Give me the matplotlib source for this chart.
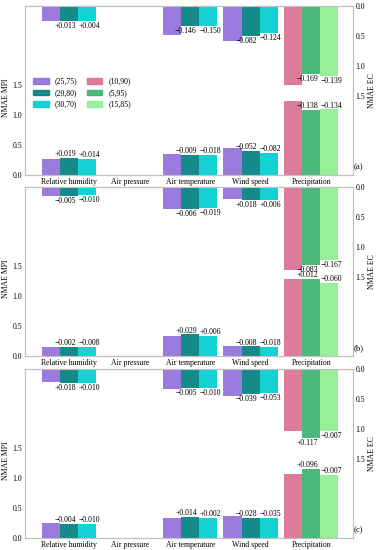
import matplotlib
matplotlib.use("Agg")
import matplotlib.pyplot as plt
from matplotlib.patches import Patch
import numpy as np

plt.rcParams['font.family'] = ['Liberation Serif', 'DejaVu Serif']

categories = ["Relative humidity", "Air pressure", "Air temperature", "Wind speed", "Precipitation"]
series_main = ["(25,75)", "(20,80)", "(30,70)"]
series_prec = ["(10,90)", "(5,95)", "(15,85)"]
panel_tags = ["(a)", "(b)", "(c)"]

# Bar heights per panel: rows = categories, cols = the three series
mpi_a = [[0.260, 0.279, 0.274], [0, 0, 0], [0.350, 0.341, 0.332], [0.455, 0.403, 0.373], [1.230, 1.092, 1.096]]
ec_a = [[0.245, 0.258, 0.249], [0, 0, 0], [0.480, 0.334, 0.330], [0.580, 0.498, 0.456], [1.310, 1.141, 1.171]]
mpi_b = [[0.157, 0.155, 0.149], [0, 0, 0], [0.333, 0.362, 0.339], [0.167, 0.159, 0.149], [1.278, 1.290, 1.218]]
ec_b = [[0.150, 0.145, 0.140], [0, 0, 0], [0.367, 0.361, 0.348], [0.205, 0.223, 0.211], [1.383, 1.300, 1.216]]
mpi_c = [[0.245, 0.241, 0.235], [0, 0, 0], [0.340, 0.354, 0.342], [0.370, 0.342, 0.335], [1.060, 1.156, 1.053]]
ec_c = [[0.223, 0.241, 0.233], [0, 0, 0], [0.330, 0.325, 0.320], [0.450, 0.411, 0.397], [1.040, 1.157, 1.033]]

# Difference labels (series 2 and 3 vs series 1); None = no label
mpi_lab_a = [[0.019, 0.014], None, [-0.009, -0.018], [-0.052, -0.082], [-0.138, -0.134]]
ec_lab_a = [[0.013, 0.004], None, [-0.146, -0.150], [-0.082, -0.124], [-0.169, -0.139]]
mpi_lab_b = [[-0.002, -0.008], None, [0.029, 0.006], [-0.008, -0.018], [0.012, -0.060]]
ec_lab_b = [[-0.005, -0.010], None, [-0.006, -0.019], [0.018, 0.006], [-0.083, -0.167]]
mpi_lab_c = [[-0.004, -0.010], None, [0.014, 0.002], [-0.028, -0.035], [0.096, -0.007]]
ec_lab_c = [[0.018, 0.010], None, [-0.005, -0.010], [-0.039, -0.053], [0.117, -0.007]]

colors_main = ["#9370DB", "#008080", "#00CED1"]
colors_prec = ["#DB7093", "#3CB371", "#90EE90"]

panels = [
    (mpi_a, ec_a, mpi_lab_a, ec_lab_a),
    (mpi_b, ec_b, mpi_lab_b, ec_lab_b),
    (mpi_c, ec_c, mpi_lab_c, ec_lab_c),
]

fig = plt.figure(figsize=(3.76, 5.5), dpi=100)
left, width = 25 / 376, 328 / 376
tops_px = [6, 187, 369]
h_px = 169
FS = 5.6
YMAX = 2.82
bw = 0.3
spine_col = "#c0c0c0"
nudge = [-0.07, 0.03]


def fmt(v):
    s = f"{v:+.3f}"
    return s.replace("-", "\u2212")


x = np.arange(len(categories))
for p, (mpi, ec, mlab, elab) in enumerate(panels):
    bottom = 1 - (tops_px[p] + h_px) / 550
    ax = fig.add_axes([left, bottom, width, h_px / 550])
    ax2 = ax.twinx()
    for ci, cat in enumerate(categories):
        cols = colors_prec if cat == "Precipitation" else colors_main
        for si in range(3):
            xc = x[ci] + (si - 1) * bw
            ax.bar(xc, mpi[ci][si], width=bw, color=cols[si], alpha=0.92, linewidth=0)
            ax2.bar(xc, ec[ci][si], width=bw, color=cols[si], alpha=0.92, linewidth=0)
        if mlab[ci] is not None:
            for k in range(2):
                xc = x[ci] + k * bw + nudge[k]
                ax.text(xc, mpi[ci][k + 1] + 0.03, fmt(mlab[ci][k]), ha="center", va="baseline", fontsize=FS)
        if elab[ci] is not None:
            for k in range(2):
                xc = x[ci] + k * bw + nudge[k]
                ax2.text(xc, ec[ci][k + 1] + 0.015, fmt(elab[ci][k]), ha="center", va="top", fontsize=FS)
    ax.set_xlim(-0.73, 4.69)
    ax.set_ylim(0, YMAX)
    ax2.set_ylim(YMAX, 0)
    ax.set_yticks([0, 0.5, 1.0, 1.5])
    ax2.set_yticks([0, 0.5, 1.0, 1.5])
    ax.set_xticks(x)
    ax.set_xticklabels(categories)
    ax.tick_params(axis="both", length=0, labelsize=FS, pad=2)
    ax2.tick_params(axis="y", length=0, labelsize=FS, pad=2)
    ax.set_ylabel("NMAE MPI", fontsize=FS)
    ax2.set_ylabel("NMAE EC", fontsize=FS, rotation=90)
    ax.yaxis.set_label_coords(-0.045, 0.455)
    ax2.yaxis.set_label_coords(1.047, 0.5)
    for a in (ax, ax2):
        for s in a.spines.values():
            s.set_color(spine_col)
            s.set_linewidth(0.8)
    ax.text(1.003, 0.02, panel_tags[p], transform=ax.transAxes, fontsize=FS + 0.6, ha="left", va="bottom")
    if p == 0:
        handles = [Patch(color=c, alpha=0.92) for c in colors_main + colors_prec]
        labels = series_main + series_prec
        ax.legend(handles, labels, loc="upper left", bbox_to_anchor=(0.015, 0.595), ncol=2, frameon=False,
                  fontsize=FS, handlelength=2.0, handleheight=0.7, columnspacing=1.2, labelspacing=0.45,
                  handletextpad=0.8, borderaxespad=0)

fig.savefig("out.png", dpi=100)
